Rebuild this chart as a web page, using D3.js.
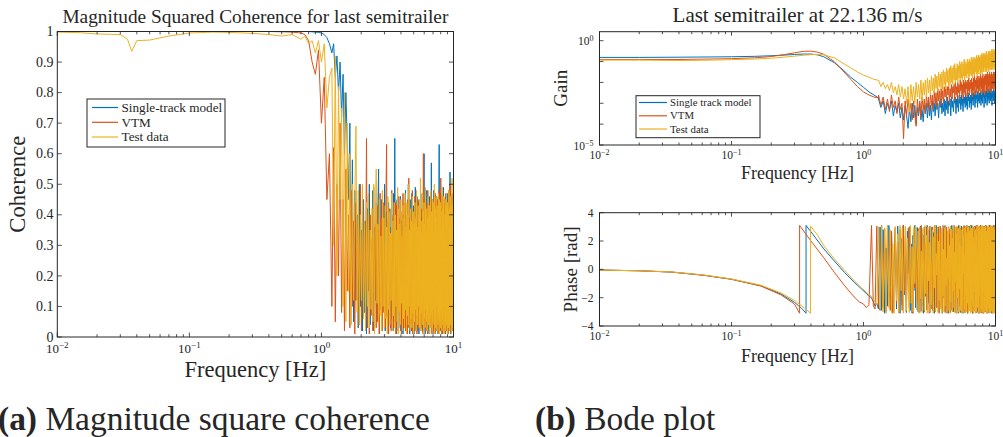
<!DOCTYPE html>
<html>
<head>
<meta charset="utf-8">
<script src="https://cdn.jsdelivr.net/npm/d3@7"></script>
<style>
body { margin: 0; background: #fff; }
svg text { font-family: "Liberation Serif", "Times New Roman", serif; fill: #262626; }
</style>
</head>
<body>
<svg id="chart" width="1003" height="437"></svg>
<script>
// ---- data ----
const legendCoh = ["Single-track model", "VTM", "Test data"];
const legendBode = ["Single track model", "VTM", "Test data"];
const colors = ["#0072BD", "#D95319", "#EDB120"];

const freqTicks = [0.01, 0.1, 1, 10];
const cohTicks = [0, 0.1, 0.2, 0.3, 0.4, 0.5, 0.6, 0.7, 0.8, 0.9, 1];
const gainTicks = [1e-5, 1e-4, 1e-3, 1e-2, 1e-1, 1];
const gainTickLabels = [1e-5, 1];
const phaseTicks = [-4, -2, 0, 2, 4];

// coherence, smooth part
const cohFreq = [0.01, 0.015, 0.02, 0.03, 0.034, 0.0366, 0.04, 0.05, 0.07, 0.1, 0.15, 0.2, 0.3, 0.4, 0.5, 0.6, 0.7, 0.75, 0.8, 0.85, 0.9, 0.95, 1.0, 1.05, 1.1, 1.15];
const cohSingle = [1, 1, 1, 1, 1, 1, 1, 1, 1, 1, 1, 1, 1, 1, 1, 1, 1, 1, 1, 0.999, 0.998, 0.997, 0.995, 0.99, 0.98, 0.96];
const cohVTM = [1, 1, 1, 1, 1, 1, 1, 1, 1, 1, 1, 1, 1, 1, 0.999, 0.998, 0.995, 0.99, 0.97, 0.9, 0.86, 0.94, 0.7, 0.85, 0.45, 0.6];
const cohTest = [0.998, 0.996, 0.992, 0.99, 0.975, 0.935, 0.97, 0.972, 0.985, 0.995, 0.998, 0.997, 0.994, 0.99, 0.985, 0.99, 0.975, 0.985, 0.96, 0.97, 0.93, 0.97, 0.9, 0.96, 0.75, 0.85];
// coherence, noisy part (evenly spaced frequency bins between these two frequencies)
const cohNoiseRange = [1.2, 10];
const cohSingleNoise = [
  0.93, 0.96, 0.85, 0.92, 0.8, 0.9, 0.72, 0.86, 0.6, 0.8,
  0.64, 0.45, 0.7, 0.2, 0.58, 0.05, 0.48, 0.12, 0.4, 0.03,
  0.5, 0.1, 0.35, 0.02, 0.45, 0.08, 0.38, 0.01, 0.42, 0.15,
  0.5, 0.04, 0.3, 0.1, 0.48, 0.02, 0.36, 0.12, 0.44, 0.05,
  0.4, 0.55, 0.01, 0.33, 0.09, 0.45, 0.03, 0.38, 0.14, 0.5,
  0.02, 0.41, 0.07, 0.28, 0.01, 0.44, 0.1, 0.36, 0.03, 0.42,
  0.06, 0.39, 0.02, 0.47, 0.11, 0.65, 0.05, 0.35, 0.01, 0.45,
  0.08, 0.42, 0.03, 0.3, 0.12, 0.46, 0.02, 0.38, 0.06, 0.4,
  0.01, 0.4, 0.09, 0.33, 0.04, 0.48, 0.02, 0.36, 0.1, 0.44,
  0.03, 0.5, 0.05, 0.39, 0.01, 0.45, 0.08, 0.31, 0.02, 0.47,
  0.11, 0.37, 0.04, 0.43, 0.01, 0.35, 0.07, 0.49, 0.03, 0.4,
  0.09, 0.46, 0.02, 0.38, 0.06, 0.44, 0.01, 0.36, 0.1, 0.41,
  0.05, 0.47, 0.03, 0.39, 0.08, 0.34, 0.02, 0.45, 0.11, 0.42,
  0.6, 0.04, 0.37, 0.01, 0.43, 0.07, 0.4, 0.03, 0.48, 0.09,
  0.36, 0.02, 0.44, 0.06, 0.38, 0.01, 0.46, 0.1, 0.35, 0.04,
  0.41, 0.08, 0.57, 0.02, 0.39, 0.05, 0.45, 0.03, 0.37, 0.09,
  0.48, 0.01, 0.42, 0.07, 0.34, 0.04, 0.44, 0.02, 0.4, 0.11,
  0.46, 0.03, 0.38, 0.06, 0.43, 0.01, 0.36, 0.08, 0.41, 0.63,
  0.02, 0.45, 0.05, 0.39, 0.1, 0.47, 0.03, 0.35, 0.07, 0.42,
  0.01, 0.44, 0.09, 0.37, 0.04, 0.49, 0.02, 0.4, 0.06, 0.43,
  0.03, 0.38, 0.11, 0.46, 0.01, 0.36, 0.08, 0.44, 0.02, 0.41,
  0.05, 0.47, 0.03, 0.39, 0.1, 0.42, 0.01, 0.37, 0.06, 0.45,
  0.02, 0.4, 0.08, 0.54, 0.04, 0.43, 0.01, 0.38, 0.09, 0.46,
  0.03, 0.41, 0.06, 0.36, 0.02, 0.44, 0.1, 0.39, 0.05, 0.35];
const cohVTMNoise = [
  0.1, 0.62, 0.05, 0.5, 0.2, 0.7, 0.08, 0.45, 0.02, 0.55,
  0.15, 0.4, 0.03, 0.48, 0.1, 0.38, 0.01, 0.44, 0.12, 0.35,
  0.04, 0.5, 0.02, 0.41, 0.09, 0.36, 0.14, 0.65, 0.03, 0.46,
  0.01, 0.4, 0.07, 0.32, 0.02, 0.49, 0.1, 0.37, 0.03, 0.43,
  0.05, 0.35, 0.01, 0.47, 0.12, 0.39, 0.02, 0.44, 0.08, 0.3,
  0.03, 0.45, 0.63, 0.06, 0.38, 0.01, 0.42, 0.1, 0.34, 0.02,
  0.48, 0.07, 0.4, 0.03, 0.36, 0.05, 0.44, 0.01, 0.43, 0.11,
  0.33, 0.02, 0.46, 0.08, 0.39, 0.04, 0.41, 0.01, 0.35, 0.09,
  0.47, 0.03, 0.37, 0.06, 0.44, 0.02, 0.4, 0.12, 0.32, 0.01,
  0.45, 0.07, 0.52, 0.03, 0.38, 0.05, 0.42, 0.02, 0.36, 0.1,
  0.48, 0.01, 0.4, 0.08, 0.34, 0.04, 0.46, 0.02, 0.39, 0.06,
  0.43, 0.01, 0.37, 0.11, 0.45, 0.03, 0.41, 0.05, 0.38, 0.09,
  0.44, 0.02, 0.36, 0.07, 0.42, 0.04, 0.47, 0.01, 0.6, 0.1,
  0.05, 0.39, 0.03, 0.45, 0.08, 0.35, 0.02, 0.43, 0.06, 0.4,
  0.01, 0.48, 0.09, 0.37, 0.04, 0.44, 0.02, 0.38, 0.11, 0.42,
  0.03, 0.46, 0.06, 0.34, 0.01, 0.41, 0.08, 0.45, 0.02, 0.39,
  0.07, 0.43, 0.04, 0.36, 0.1, 0.47, 0.01, 0.4, 0.05, 0.44,
  0.02, 0.38, 0.09, 0.45, 0.03, 0.41, 0.06, 0.35, 0.01, 0.48,
  0.08, 0.4, 0.04, 0.43, 0.02, 0.52, 0.1, 0.37, 0.05, 0.42,
  0.01, 0.46, 0.07, 0.39, 0.03, 0.44, 0.02, 0.36, 0.09, 0.41,
  0.04, 0.45, 0.01, 0.38, 0.06, 0.47, 0.03, 0.4, 0.11, 0.43,
  0.02, 0.37, 0.08, 0.44, 0.01, 0.41, 0.05, 0.48, 0.03, 0.39,
  0.07, 0.42, 0.02, 0.5, 0.04, 0.36, 0.1, 0.45, 0.01, 0.4,
  0.06, 0.43, 0.03, 0.47, 0.09, 0.38, 0.02, 0.44, 0.05, 0.2];
const cohTestNoise = [
  0.88, 0.3, 0.92, 0.2, 0.82, 0.45, 0.75, 0.1, 0.8, 0.05,
  0.7, 0.15, 0.6, 0.04, 0.5, 0.12, 0.45, 0.69, 0.08, 0.48,
  0.04, 0.4, 0.12, 0.5, 0.06, 0.38, 0.02, 0.44, 0.1, 0.47,
  0.03, 0.35, 0.09, 0.42, 0.05, 0.5, 0.01, 0.4, 0.55, 0.11,
  0.37, 0.04, 0.45, 0.07, 0.33, 0.02, 0.48, 0.1, 0.39, 0.03,
  0.43, 0.06, 0.36, 0.01, 0.46, 0.09, 0.41, 0.04, 0.34, 0.12,
  0.47, 0.02, 0.38, 0.07, 0.44, 0.03, 0.4, 0.1, 0.35, 0.05,
  0.49, 0.01, 0.42, 0.08, 0.37, 0.04, 0.45, 0.11, 0.33, 0.02,
  0.43, 0.06, 0.39, 0.03, 0.47, 0.09, 0.36, 0.01, 0.44, 0.07,
  0.4, 0.04, 0.5, 0.1, 0.35, 0.02, 0.42, 0.06, 0.38, 0.03,
  0.46, 0.08, 0.41, 0.01, 0.37, 0.05, 0.44, 0.09, 0.39, 0.02,
  0.48, 0.07, 0.36, 0.04, 0.43, 0.1, 0.4, 0.03, 0.45, 0.06,
  0.52, 0.02, 0.38, 0.08, 0.34, 0.04, 0.47, 0.11, 0.41, 0.01,
  0.44, 0.06, 0.37, 0.03, 0.49, 0.09, 0.35, 0.05, 0.42, 0.02,
  0.39, 0.07, 0.46, 0.04, 0.4, 0.1, 0.43, 0.01, 0.36, 0.06,
  0.48, 0.03, 0.41, 0.08, 0.38, 0.02, 0.45, 0.05, 0.33, 0.09,
  0.44, 0.04, 0.5, 0.01, 0.37, 0.07, 0.42, 0.03, 0.46, 0.1,
  0.39, 0.02, 0.43, 0.06, 0.35, 0.04, 0.47, 0.08, 0.4, 0.01,
  0.45, 0.05, 0.38, 0.09, 0.44, 0.03, 0.41, 0.07, 0.36, 0.02,
  0.49, 0.06, 0.42, 0.04, 0.37, 0.1, 0.46, 0.01, 0.4, 0.08,
  0.34, 0.03, 0.45, 0.05, 0.39, 0.02, 0.43, 0.09, 0.47, 0.04,
  0.38, 0.07, 0.44, 0.01, 0.41, 0.06, 0.36, 0.03, 0.48, 0.1,
  0.42, 0.02, 0.39, 0.05, 0.46, 0.08, 0.35, 0.04, 0.43, 0.01,
  0.4, 0.06, 0.52, 0.03, 0.37, 0.09, 0.44, 0.02, 0.41, 0.3];

// gain, smooth part
const gainFreq = [0.01, 0.02, 0.04, 0.07, 0.1, 0.15, 0.2, 0.25, 0.3, 0.35, 0.4, 0.45, 0.5, 0.6, 0.7, 0.8, 0.9, 1.0, 1.1, 1.2, 1.3];
const gainSingle = [0.158, 0.158, 0.162, 0.166, 0.17, 0.178, 0.19, 0.204, 0.219, 0.229, 0.229, 0.209, 0.17, 0.089, 0.04, 0.0178, 0.01, 0.0058, 0.0035, 0.0025, 0.0018];
const gainVTM = [0.126, 0.126, 0.126, 0.132, 0.138, 0.151, 0.174, 0.214, 0.263, 0.309, 0.316, 0.282, 0.224, 0.1, 0.0355, 0.0141, 0.0063, 0.0035, 0.0025, 0.002, 0.0018];
const gainTest = [0.117, 0.117, 0.112, 0.117, 0.123, 0.132, 0.145, 0.162, 0.182, 0.2, 0.214, 0.219, 0.209, 0.151, 0.083, 0.05, 0.0316, 0.0224, 0.0178, 0.0141, 0.0126];
// gain, noisy part
const gainNoiseRange = [1.3, 10];
const gainSingleNoise = [
  1.6e-3, 6.3e-4, 1.3e-3, 3.2e-4, 1.0e-3, 5.0e-4, 1.3e-3, 2.5e-4, 7.9e-4, 4.0e-4,
  1.0e-3, 2.0e-4, 6.3e-4, 1.6e-4, 7.9e-4, 2.5e-4, 6.3e-5, 6.3e-4, 1.3e-4, 1.0e-3,
  2.0e-4, 7.9e-4, 1.0e-4, 6.3e-4, 2.5e-4, 1.0e-3, 1.6e-4, 5.0e-4, 1.3e-4, 7.9e-4,
  3.2e-4, 1.0e-3, 2.0e-4, 1.3e-3, 2.5e-4, 7.9e-4, 1.6e-4, 1.3e-3, 4.0e-4, 1.0e-3,
  2.5e-4, 1.6e-3, 5.0e-4, 1.0e-3, 2.0e-4, 1.3e-3, 6.3e-4, 1.6e-3, 3.2e-4, 1.0e-3,
  4.0e-4, 1.6e-3, 2.5e-4, 1.3e-3, 5.0e-4, 2.0e-3, 3.2e-4, 1.3e-3, 7.9e-4, 1.6e-3,
  2.5e-4, 2.0e-3, 6.3e-4, 1.3e-3, 4.0e-4, 1.6e-3, 1.0e-3, 2.0e-3, 3.2e-4, 1.6e-3,
  6.3e-4, 2.5e-3, 4.0e-4, 1.6e-3, 1.0e-3, 2.0e-3, 5.0e-4, 2.5e-3, 7.9e-4, 1.6e-3,
  4.0e-4, 2.5e-3, 1.0e-3, 2.0e-3, 6.3e-4, 3.2e-3, 7.9e-4, 2.0e-3, 5.0e-4, 2.5e-3,
  1.3e-3, 3.2e-3, 6.3e-4, 2.0e-3, 1.0e-3, 2.5e-3, 5.0e-4, 3.2e-3, 1.3e-3, 2.0e-3,
  7.9e-4, 3.2e-3, 1.6e-3, 2.5e-3, 6.3e-4, 4.0e-3, 1.0e-3, 2.5e-3, 1.6e-3, 3.2e-3,
  6.3e-4, 4.0e-3, 1.3e-3, 2.5e-3, 1.0e-3, 3.2e-3, 1.6e-3, 4.0e-3, 7.9e-4, 2.5e-3,
  1.3e-3, 4.0e-3, 1.0e-3, 3.2e-3, 2.0e-3, 4.0e-3, 6.3e-4, 3.2e-3, 1.6e-3, 4.0e-3,
  1.0e-3, 3.2e-3, 2.0e-3, 4.0e-3, 7.9e-4, 3.2e-3, 1.3e-3, 5.0e-3, 1.6e-3, 3.2e-3,
  1.0e-3, 4.0e-3, 2.0e-3, 3.2e-3, 1.3e-3, 5.0e-3, 1.6e-3, 4.0e-3, 7.9e-4, 3.2e-3,
  2.0e-3, 4.0e-3, 1.3e-3, 5.0e-3, 1.6e-3, 3.2e-3, 1.0e-3, 4.0e-3, 2.0e-3, 3.2e-3];
const gainVTMNoise = [
  2.5e-3, 7.9e-4, 2.0e-3, 5.0e-4, 1.6e-3, 4.0e-4, 2.5e-3, 6.3e-4, 1.3e-3, 3.2e-4,
  2.0e-3, 5.0e-4, 1.0e-3, 2.0e-5, 1.3e-3, 2.5e-4, 1.6e-3, 4.0e-4, 1.0e-3, 1.6e-4,
  1.3e-3, 2.5e-4, 7.9e-5, 1.6e-3, 3.2e-4, 1.3e-3, 2.0e-4, 2.0e-3, 5.0e-4, 1.6e-3,
  3.2e-4, 2.5e-3, 6.3e-4, 2.0e-3, 4.0e-4, 3.2e-3, 7.9e-4, 2.5e-3, 5.0e-4, 4.0e-3,
  1.0e-3, 3.2e-3, 6.3e-4, 5.0e-3, 1.3e-3, 4.0e-3, 7.9e-4, 5.0e-3, 1.6e-3, 4.0e-3,
  1.0e-3, 6.3e-3, 2.0e-3, 5.0e-3, 1.3e-3, 6.3e-3, 2.5e-3, 7.9e-3, 1.0e-3, 5.0e-3,
  2.0e-3, 7.9e-3, 1.6e-3, 6.3e-3, 3.2e-3, 7.9e-3, 1.3e-3, 1.0e-2, 2.5e-3, 6.3e-3,
  2.0e-3, 1.0e-2, 3.2e-3, 7.9e-3, 1.6e-3, 1.3e-2, 4.0e-3, 1.0e-2, 2.5e-3, 7.9e-3,
  1.6e-3, 1.3e-2, 3.2e-3, 1.0e-2, 2.5e-3, 1.3e-2, 5.0e-3, 1.0e-2, 2.0e-3, 1.3e-2,
  4.0e-3, 1.6e-2, 2.5e-3, 1.0e-2, 5.0e-3, 1.3e-2, 3.2e-3, 1.6e-2, 2.0e-3, 1.0e-2,
  4.0e-3, 1.6e-2, 3.2e-3, 2.0e-2, 2.5e-3, 1.3e-2, 6.3e-3, 1.6e-2, 3.2e-3, 2.0e-2,
  5.0e-3, 1.3e-2, 2.5e-3, 2.0e-2, 4.0e-3, 1.6e-2, 6.3e-3, 2.5e-2, 3.2e-3, 1.6e-2,
  5.0e-3, 2.0e-2, 4.0e-3, 2.5e-2, 3.2e-3, 1.6e-2, 6.3e-3, 2.0e-2, 2.5e-3, 2.5e-2,
  7.9e-3, 2.0e-2, 4.0e-3, 2.5e-2, 5.0e-3, 3.2e-2, 3.2e-3, 2.0e-2, 6.3e-3, 2.5e-2,
  4.0e-3, 3.2e-2, 7.9e-3, 2.0e-2, 5.0e-3, 2.5e-2, 3.2e-3, 3.2e-2, 6.3e-3, 2.0e-2,
  5.0e-3, 2.5e-2, 7.9e-3, 3.2e-2, 4.0e-3, 2.5e-2, 6.3e-3, 3.2e-2, 5.0e-3, 2.5e-2];
const gainTestNoise = [
  1.3e-2, 6.3e-3, 1.0e-2, 5.0e-3, 7.9e-3, 4.0e-3, 1.0e-2, 3.2e-3, 6.3e-3, 2.5e-3,
  7.9e-3, 2.0e-3, 6.3e-3, 1.6e-3, 5.0e-3, 1.0e-3, 6.3e-3, 4.0e-4, 7.9e-3, 1.3e-3,
  6.3e-3, 1.0e-3, 1.0e-2, 2.0e-3, 7.9e-3, 1.6e-3, 1.3e-2, 1.3e-3, 1.0e-2, 2.5e-3,
  1.3e-2, 2.0e-3, 1.6e-2, 3.2e-3, 1.3e-2, 2.5e-3, 2.0e-2, 4.0e-3, 1.6e-2, 3.2e-3,
  2.5e-2, 5.0e-3, 2.0e-2, 4.0e-3, 3.2e-2, 6.3e-3, 2.5e-2, 5.0e-3, 3.2e-2, 4.0e-3,
  4.0e-2, 7.9e-3, 3.2e-2, 5.0e-3, 5.0e-2, 1.0e-2, 4.0e-2, 6.3e-3, 5.0e-2, 7.9e-3,
  6.3e-2, 1.0e-2, 5.0e-2, 7.9e-3, 6.3e-2, 1.3e-2, 7.9e-2, 1.0e-2, 5.0e-2, 1.3e-2,
  7.9e-2, 1.0e-2, 6.3e-2, 1.6e-2, 0.1, 1.3e-2, 7.9e-2, 1.6e-2, 0.1, 1.0e-2,
  7.9e-2, 2.0e-2, 0.13, 1.3e-2, 0.1, 2.0e-2, 7.9e-2, 1.6e-2, 0.13, 2.5e-2,
  0.1, 1.6e-2, 0.13, 2.0e-2, 0.1, 2.5e-2, 0.16, 2.0e-2, 0.13, 1.6e-2,
  0.16, 2.5e-2, 0.13, 2.0e-2, 0.16, 3.2e-2, 0.13, 2.5e-2, 0.2, 2.0e-2,
  0.16, 3.2e-2, 0.2, 2.5e-2, 0.16, 4.0e-2, 0.2, 2.5e-2, 0.16, 3.2e-2,
  0.25, 2.5e-2, 0.2, 4.0e-2, 0.25, 3.2e-2, 0.2, 5.0e-2, 0.25, 3.2e-2,
  0.2, 4.0e-2, 0.32, 3.2e-2, 0.25, 5.0e-2, 0.2, 4.0e-2, 0.32, 3.2e-2,
  0.25, 5.0e-2, 0.32, 4.0e-2, 0.25, 6.3e-2, 0.32, 4.0e-2, 0.4, 5.0e-2,
  0.32, 4.0e-2, 0.25, 6.3e-2, 0.4, 5.0e-2, 0.32, 4.0e-2, 0.32, 5.0e-2];

// phase, smooth part (each series wraps at its own frequency)
const phaseFreqSingle = [0.01, 0.02, 0.035, 0.062, 0.1, 0.167, 0.237, 0.3, 0.34, 0.367, 0.367, 0.4, 0.5, 0.6, 0.72, 0.85, 0.97, 1.05, 1.1];
const phaseSingle = [-0.05, -0.1, -0.19, -0.42, -0.7, -1.16, -1.74, -2.33, -2.75, -3.1, 3.1, 2.65, 1.45, 0.6, -0.23, -0.9, -1.4, -1.7, -1.9];
const phaseFreqVTM = [0.01, 0.02, 0.035, 0.062, 0.1, 0.167, 0.237, 0.3, 0.328, 0.328, 0.4, 0.5, 0.6, 0.72, 0.85, 0.93, 1.0, 1.05, 1.1];
const phaseVTM = [-0.05, -0.1, -0.19, -0.42, -0.7, -1.18, -1.8, -2.45, -3.1, 3.1, 2.0, 0.82, -0.2, -1.16, -1.95, -2.3, -2.45, -2.7, -2.5];
const phaseFreqTest = [0.01, 0.02, 0.035, 0.062, 0.1, 0.167, 0.237, 0.3, 0.36, 0.397, 0.397, 0.45, 0.5, 0.6, 0.72, 0.85, 0.97, 1.05, 1.1];
const phaseTest = [-0.05, -0.1, -0.18, -0.4, -0.68, -1.12, -1.66, -2.2, -2.75, -3.1, 3.05, 2.4, 1.67, 0.75, -0.07, -0.8, -1.33, -1.6, -1.8];
// phase, noisy part
const phaseNoiseRange = [1.15, 10];
const phaseSingleNoise = [
  -2.0, -2.3, -2.6, -2.4, -2.8, 3.0, -2.9, 2.8, -3.1, 1.5,
  -2.6, 3.1, -1.2, 2.6, -3.0, 0.4, 2.9, -2.8, 3.05, -0.9,
  -3.1, 2.2, -2.5, 3.1, -1.8, 0.9, -3.05, 2.7, -0.3, 3.0,
  -2.9, 1.8, -3.1, 2.4, -1.5, 3.1, -2.7, 0.2, 2.95, -3.0,
  1.2, -2.2, 3.05, -2.95, 2.5, -0.7, -3.1, 3.0, -1.9, 1.6,
  -2.85, 3.1, -2.4, 0.6, 2.8, -3.05, 2.1, -1.1, 3.0, -2.9,
  -0.2, 2.6, -3.1, 1.9, -2.3, 3.1, -2.7, 0.8, 2.9, -3.0,
  1.4, -1.7, 3.05, -2.8, 2.3, -0.5, -3.1, 2.9, -2.0, 1.1,
  -2.95, 3.1, -2.6, 0.3, 2.7, -3.1, 2.0, -1.4, 3.0, -2.8,
  0.9, 2.5, -3.05, 1.7, -2.2, 3.1, -2.9, -0.1, 2.85, -3.0,
  1.3, -1.9, 3.0, -2.7, 2.4, -0.8, -3.1, 2.95, -1.6, 1.8,
  -2.9, 3.1, -2.5, 0.5, 2.6, -3.05, 2.2, -1.2, 3.05, -2.85,
  0.7, 2.8, -3.1, 2.1, -0.6, 3.0, -2.75, 1.0, -3.05, 2.9,
  -1.3, 2.5, -2.95, 3.1, -0.4, -3.1, 2.7, -2.1, 1.6, -2.8,
  3.05, -1.5, 0.1, 2.9, -3.0, 2.3, -2.6, 3.1, -0.9, 1.4,
  -3.1, 2.8, -2.2, 0.6, 3.0, -2.9, 1.9, -1.0, 3.05, -2.7,
  2.4, -3.05, 0.8, 2.95, -2.4, 3.1, -1.7, 0.2, -3.0, 2.6,
  -2.8, 1.3, 3.0, -3.1, 2.0, -0.3, 2.85, -2.5, 3.1, -1.2,
  -3.05, 2.2, 0.9, -2.9, 3.0, -1.9, 2.7, -3.1, 0.4, 2.9,
  -2.6, 3.05, -0.7, 1.8, -3.0, 2.5, -2.2, 3.1, -2.85, 1.1,
  2.8, -3.1, 0.0, 2.6, -2.7, 3.0, -1.4, 2.1, -3.05, 2.95,
  -0.5, -2.9, 3.1, -2.3, 1.5, 2.7, -3.0, 0.7, -1.8, 3.05,
  -2.75, 2.3, -3.1, 1.2, 2.9, -2.5, 3.0, -0.2, -3.05, 2.6,
  -1.6, 3.1, -2.9, 0.5, 2.8, -3.0, 1.9, -2.4, 3.05, -2.8];
const phaseVTMNoise = [
  3.1, -2.6, -2.8, 3.05, -2.5, -2.9, 3.1, -2.7, 2.9, -3.0,
  3.1, -1.0, -2.9, 2.7, -3.1, 0.6, 3.0, -2.4, 1.9, -3.05,
  2.8, -0.4, -2.9, 3.1, -1.6, 2.3, -3.0, 1.0, 2.9, -2.7,
  3.05, -2.0, 0.1, -3.1, 2.6, -1.3, 3.0, -2.8, 1.5, -2.3,
  2.9, -3.05, 0.8, 3.1, -2.6, -0.6, 2.4, -3.0, 1.8, -1.9,
  3.0, -2.9, 2.1, -0.9, -3.1, 3.05, -1.5, 0.5, -2.8, 2.95,
  -2.2, 1.2, 3.1, -3.0, 0.0, 2.5, -2.7, 1.6, -1.1, 3.0,
  -3.1, 2.2, -0.3, 2.9, -2.5, 1.0, -2.95, 3.1, -1.8, 0.7,
  2.7, -3.05, 1.9, -0.8, 3.0, -2.8, 2.3, -1.4, -3.1, 2.85,
  -2.1, 0.4, 3.05, -2.9, 1.4, -0.5, 2.6, -3.0, 2.0, -1.7,
  3.1, -2.75, 0.9, 2.4, -3.05, 1.1, -2.4, 3.0, -0.7, 2.8,
  -3.1, 1.7, -1.2, 3.05, -2.6, 0.2, 2.9, -2.95, 1.5, -2.0,
  2.95, -3.0, 0.6, 2.2, -2.85, 3.1, -1.1, 1.8, -3.05, 2.5,
  -0.1, -2.7, 3.0, -1.9, 2.6, -3.1, 0.9, 3.05, -2.3, 1.3,
  -2.9, 2.8, -0.6, 3.1, -3.0, 1.6, -1.5, 2.9, -2.6, 0.3,
  3.0, -3.1, 2.1, -0.8, 2.7, -2.8, 3.05, -1.7, 0.5, -2.95,
  2.4, -2.2, 3.1, -3.05, 1.1, -0.4, 2.9, -2.7, 1.9, -3.1,
  3.0, -1.3, 0.8, -2.9, 2.6, -3.0, 3.1, -2.1, 0.0, 2.75,
  -3.05, 1.4, -2.5, 3.0, -0.9, 2.3, -3.1, 2.9, -1.6, 0.6,
  3.05, -2.8, 1.7, -3.0, 2.5, -0.2, -2.6, 3.1, -1.4, 2.0,
  -2.95, 0.9, 3.0, -3.1, 2.2, -1.8, 2.8, -2.4, 0.4, 3.05,
  -3.0, 1.5, -0.7, 2.9, -2.75, 3.1, -2.0, 1.2, -3.05, 2.6,
  -1.1, 3.0, -2.9, 0.3, 2.4, -3.1, 1.8, -2.5, 3.05, -0.5,
  -3.0, 2.7, -1.9, 3.1, -2.8, 0.7, 2.9, -3.05, 1.6, -2.3];
const phaseTestNoise = [
  -1.9, -2.1, -2.3, -2.5, 3.0, -2.8, 3.05, -3.0, 2.9, -3.1,
  3.1, -2.7, 2.8, -3.05, 1.8, -3.1, 3.0, -2.2, 2.5, -3.0,
  3.1, -1.5, 2.9, -3.1, 0.9, 3.05, -2.9, 2.2, -0.6, -3.05,
  3.1, -2.4, 1.6, -3.0, 2.95, -1.0, 3.1, -2.85, 0.5, 2.7,
  -3.1, 3.0, -2.1, 1.3, -3.05, 2.9, -0.2, -2.9, 3.1, -1.7,
  2.4, -3.1, 3.0, -0.8, 1.9, -3.0, 3.05, -2.5, 0.7, 2.8,
  -3.1, 2.3, -1.3, 3.1, -2.95, 1.1, -0.4, 3.0, -3.05, 2.0,
  -2.2, 3.05, -2.8, 0.3, 2.6, -3.1, 3.0, -1.9, 1.4, -3.0,
  2.9, -2.6, 3.1, -1.1, 0.8, -3.05, 2.7, -0.7, 3.0, -2.9,
  1.7, -3.1, 3.05, -2.3, 0.1, 2.85, -3.0, 2.2, -1.5, 3.1,
  -2.7, 1.2, -3.05, 3.0, -0.9, 2.5, -3.1, 3.05, -2.0, 0.6,
  2.9, -3.0, 1.9, -1.4, 3.1, -2.9, 0.4, 2.8, -3.1, 1.6,
  -2.5, 3.0, -3.05, 2.4, -0.3, 2.95, -2.8, 1.0, -3.1, 3.05,
  -1.8, 2.6, -3.0, 0.9, 3.1, -2.4, 2.1, -3.05, 3.0, -0.5,
  -2.9, 2.7, -1.2, 3.05, -3.1, 1.5, -2.2, 2.9, -3.0, 0.2,
  3.1, -2.6, 2.3, -0.8, -3.05, 3.0, -1.6, 1.8, -2.95, 2.8,
  -3.1, 0.7, 2.5, -3.0, 3.05, -2.1, 1.3, -2.7, 3.1, -0.1,
  -3.05, 2.9, -1.9, 0.5, 3.0, -3.1, 2.2, -1.0, 2.8, -2.8,
  3.05, -0.6, -3.0, 2.6, -2.3, 3.1, -3.05, 1.4, -1.5, 2.9,
  -3.1, 3.0, -2.7, 0.8, 2.4, -2.95, 3.05, -1.3, 1.9, -3.0,
  2.7, -3.1, 0.3, 3.0, -2.5, 2.1, -3.05, 3.1, -0.9, -2.8,
  2.95, -1.7, 1.1, -3.1, 3.0, -2.2, 2.6, -3.0, 0.4, 3.05,
  -2.9, 1.8, -1.1, 3.1, -3.05, 2.3, -0.4, 2.9, -3.1, 1.5,
  -2.6, 3.0, -3.0, 0.6, 2.8, -3.1, 2.0, -1.8, 3.05, -2.5];

// ---- drawing ----
const AXIS = "#262626";
const svg = d3.select("#chart");

function with_noise(freq, vals, range, noise) {
	let pts = freq.map((f, i) => [f, vals[i]]);
	let step = (range[1] - range[0]) / (noise.length - 1);
	noise.forEach((v, i) => pts.push([range[0] + i * step, v]));
	return pts;
}

// scale the font so the text spans the width measured on the reference
function fit_text(sel, width) {
	let w = sel.node().getComputedTextLength();
	let fs = parseFloat(sel.attr("font-size")) * width / w;
	sel.attr("font-size", fs.toFixed(2));
	return fs;
}

function pow10_label(sel, exp, expSize, rise) {
	sel.append("tspan").text("10");
	sel.append("tspan").attr("font-size", expSize).attr("dy", -rise)
		.text(exp < 0 ? "\u2212" + (-exp) : String(exp));
}

// box, inward ticks on all four sides, log minor ticks along x
function draw_frame(g, x, y, yTicks, tickLen, minorLen) {
	let [x0, x1] = x.range();
	let [yb, yt] = y.range();
	let minor = [];
	for (let d = -2; d < 1; d++) {
		for (let m = 2; m <= 9; m++) minor.push(m * Math.pow(10, d));
	}
	let path = d3.path();
	freqTicks.forEach(t => {
		path.moveTo(x(t), yb); path.lineTo(x(t), yb - tickLen);
		path.moveTo(x(t), yt); path.lineTo(x(t), yt + tickLen);
	});
	minor.forEach(t => {
		path.moveTo(x(t), yb); path.lineTo(x(t), yb - minorLen);
		path.moveTo(x(t), yt); path.lineTo(x(t), yt + minorLen);
	});
	yTicks.forEach(t => {
		path.moveTo(x0, y(t)); path.lineTo(x0 + tickLen, y(t));
		path.moveTo(x1, y(t)); path.lineTo(x1 - tickLen, y(t));
	});
	g.append("path").attr("d", path.toString())
		.attr("stroke", AXIS).attr("stroke-width", 0.8).attr("fill", "none");
	g.append("rect").attr("x", x0).attr("y", yt).attr("width", x1 - x0).attr("height", yb - yt)
		.attr("fill", "none").attr("stroke", AXIS).attr("stroke-width", 1);
}

function draw_x_labels(g, x, baseY, size, expSize, rise) {
	freqTicks.forEach(t => {
		let lbl = g.append("text").attr("x", x(t)).attr("y", baseY)
			.attr("font-size", size).attr("text-anchor", "middle");
		pow10_label(lbl, Math.round(Math.log10(t)), expSize, rise);
	});
}

function draw_lines(g, x, y, series, clipId) {
	let [x0, x1] = x.range();
	let [yb, yt] = y.range();
	g.append("clipPath").attr("id", clipId).append("rect")
		.attr("x", x0).attr("y", yt).attr("width", x1 - x0).attr("height", yb - yt);
	let line = d3.line().x(d => x(d[0])).y(d => y(d[1]));
	let lg = g.append("g").attr("clip-path", `url(#${clipId})`);
	series.forEach((s, i) => {
		lg.append("path").attr("d", line(s)).attr("fill", "none")
			.attr("stroke", colors[i]).attr("stroke-width", 1).attr("stroke-linejoin", "round");
	});
}

function draw_legend(g, box, names, lineX, textX, rows, size) {
	g.append("rect").attr("x", box[0]).attr("y", box[1]).attr("width", box[2]).attr("height", box[3])
		.attr("fill", "#fff").attr("stroke", AXIS).attr("stroke-width", 1);
	names.forEach((n, i) => {
		g.append("line").attr("x1", lineX[0]).attr("x2", lineX[1]).attr("y1", rows[i]).attr("y2", rows[i])
			.attr("stroke", colors[i]).attr("stroke-width", 1.2);
		g.append("text").attr("x", textX).attr("y", rows[i]).attr("dy", "0.33em")
			.attr("font-size", size).text(n);
	});
}

// ---------- (a) coherence ----------
let xa = d3.scaleLog().domain([0.01, 10]).range([57.3, 453.5]);
let ya = d3.scaleLinear().domain([0, 1]).range([337, 31.5]);
let ga = svg.append("g");

draw_lines(ga, xa, ya, [
	with_noise(cohFreq, cohSingle, cohNoiseRange, cohSingleNoise),
	with_noise(cohFreq, cohVTM, cohNoiseRange, cohVTMNoise),
	with_noise(cohFreq, cohTest, cohNoiseRange, cohTestNoise)
], "clip-a");
draw_frame(ga, xa, ya, cohTicks, 4.5, 2.8);

cohTicks.forEach(t => {
	ga.append("text").attr("x", 53.5).attr("y", ya(t)).attr("dy", "0.33em")
		.attr("font-size", 14).attr("text-anchor", "end").text(d3.format("~g")(t));
});
draw_x_labels(ga, xa, 352.5, 13, 9, 5);

fit_text(ga.append("text").attr("x", 255.4).attr("y", 22.5).attr("font-size", 16)
	.attr("text-anchor", "middle").text("Magnitude Squared Coherence for last semitrailer"), 386);
fit_text(ga.append("text").attr("x", 255.4).attr("y", 377).attr("font-size", 20)
	.attr("text-anchor", "middle").text("Frequency [Hz]"), 142);
fit_text(ga.append("text").attr("transform", "translate(25,184.2) rotate(-90)").attr("font-size", 20)
	.attr("text-anchor", "middle").text("Coherence"), 97);

draw_legend(ga, [87, 99, 138, 48], legendCoh, [92, 118], 121.5, [107.5, 122.3, 137], 13.2);

// ---------- (b) bode ----------
let xb = d3.scaleLog().domain([0.01, 10]).range([599.5, 995.5]);
let yg = d3.scaleLog().domain([1e-5, 2.7]).range([145, 31.7]);
let yp = d3.scaleLinear().domain([-4, 4]).range([326, 212.7]);
let gb = svg.append("g");

draw_lines(gb, xb, yg, [
	with_noise(gainFreq, gainSingle, gainNoiseRange, gainSingleNoise),
	with_noise(gainFreq, gainVTM, gainNoiseRange, gainVTMNoise),
	with_noise(gainFreq, gainTest, gainNoiseRange, gainTestNoise)
], "clip-g");
draw_frame(gb, xb, yg, gainTicks, 4, 2.5);

draw_lines(gb, xb, yp, [
	with_noise(phaseFreqSingle, phaseSingle, phaseNoiseRange, phaseSingleNoise),
	with_noise(phaseFreqVTM, phaseVTM, phaseNoiseRange, phaseVTMNoise),
	with_noise(phaseFreqTest, phaseTest, phaseNoiseRange, phaseTestNoise)
], "clip-p");
draw_frame(gb, xb, yp, phaseTicks, 4, 2.5);

gainTickLabels.forEach(t => {
	let lbl = gb.append("text").attr("x", 593.5).attr("y", yg(t) + 4.5)
		.attr("font-size", 11.5).attr("text-anchor", "end");
	pow10_label(lbl, Math.round(Math.log10(t)), 8, 4);
});
phaseTicks.forEach(t => {
	gb.append("text").attr("x", 593.5).attr("y", yp(t)).attr("dy", "0.35em")
		.attr("font-size", 11.5).attr("text-anchor", "end").text(t < 0 ? "\u2212" + (-t) : t);
});
draw_x_labels(gb, xb, 159.3, 11.5, 8, 4);
draw_x_labels(gb, xb, 340, 11.5, 8, 4);

fit_text(gb.append("text").attr("x", 797.5).attr("y", 21.7).attr("font-size", 15)
	.attr("text-anchor", "middle").text("Last semitrailer at 22.136 m/s"), 250);
let xlabSize = fit_text(gb.append("text").attr("x", 797.5).attr("y", 179).attr("font-size", 16)
	.attr("text-anchor", "middle").text("Frequency [Hz]"), 113);
gb.append("text").attr("x", 797.5).attr("y", 362).attr("font-size", xlabSize)
	.attr("text-anchor", "middle").text("Frequency [Hz]");
let ylabSize = fit_text(gb.append("text").attr("transform", "translate(577,269.4) rotate(-90)").attr("font-size", 16)
	.attr("text-anchor", "middle").text("Phase [rad]"), 86);
gb.append("text").attr("transform", "translate(567,88.3) rotate(-90)").attr("font-size", ylabSize)
	.attr("text-anchor", "middle").text("Gain");

draw_legend(gb, [636, 95.7, 124, 42], legendBode, [639, 667], 670, [102.5, 115.8, 129], 10.8);

// ---------- captions ----------
let capA = svg.append("text").attr("x", -2).attr("y", 430).attr("font-size", 28);
capA.append("tspan").attr("font-weight", "bold").text("(a)");
capA.append("tspan").text(" Magnitude square coherence");
let capSize = fit_text(capA, 432);
let capB = svg.append("text").attr("x", 535).attr("y", 430).attr("font-size", capSize);
capB.append("tspan").attr("font-weight", "bold").text("(b)");
capB.append("tspan").text(" Bode plot");
</script>
</body>
</html>
